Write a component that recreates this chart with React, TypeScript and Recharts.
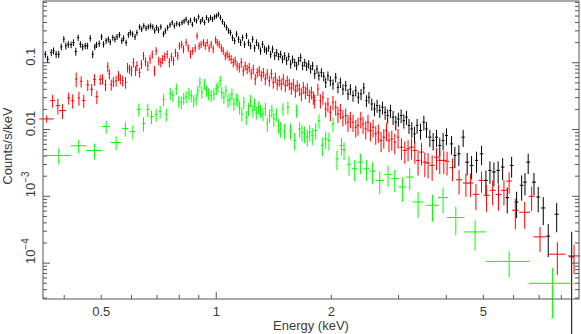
import React from 'react';
import { ScatterChart, Scatter, XAxis, YAxis, ErrorBar, Label } from 'recharts';

// each row: [energy keV, bin half-width keV, counts/s/keV, 1-sigma error]
const blackSpectrum: number[][] = [
  [0.357, 0.0025, 0.134, 0.016], [0.362, 0.0025, 0.113, 0.014], [0.370, 0.0025, 0.142, 0.017], [0.375, 0.0025, 0.151, 0.018],
  [0.381, 0.0025, 0.134, 0.016], [0.387, 0.0025, 0.134, 0.016], [0.393, 0.0025, 0.173, 0.02], [0.399, 0.0025, 0.225, 0.025],
  [0.404, 0.0025, 0.179, 0.021], [0.410, 0.003, 0.189, 0.022], [0.417, 0.003, 0.186, 0.021], [0.423, 0.003, 0.201, 0.023],
  [0.429, 0.003, 0.147, 0.02], [0.435, 0.003, 0.238, 0.026], [0.441, 0.003, 0.189, 0.021], [0.447, 0.003, 0.173, 0.02],
  [0.454, 0.003, 0.179, 0.02], [0.460, 0.003, 0.179, 0.02], [0.468, 0.003, 0.233, 0.025], [0.475, 0.003, 0.134, 0.017],
  [0.481, 0.003, 0.173, 0.019], [0.486, 0.003, 0.186, 0.02], [0.494, 0.003, 0.194, 0.021], [0.501, 0.003, 0.244, 0.026],
  [0.507, 0.003, 0.189, 0.02], [0.515, 0.003, 0.213, 0.022], [0.522, 0.003, 0.225, 0.023], [0.528, 0.003, 0.204, 0.021],
  [0.536, 0.003, 0.238, 0.024], [0.543, 0.003, 0.225, 0.023], [0.550, 0.003, 0.244, 0.025], [0.558, 0.0035, 0.262, 0.026],
  [0.566, 0.0035, 0.213, 0.022], [0.572, 0.0035, 0.233, 0.024], [0.581, 0.0035, 0.201, 0.021], [0.589, 0.0035, 0.262, 0.026],
  [0.596, 0.0035, 0.283, 0.028], [0.604, 0.0035, 0.269, 0.027], [0.613, 0.0035, 0.244, 0.025], [0.620, 0.0035, 0.283, 0.028],
  [0.630, 0.004, 0.344, 0.032], [0.638, 0.004, 0.318, 0.03], [0.646, 0.004, 0.357, 0.033], [0.655, 0.004, 0.329, 0.031],
  [0.664, 0.004, 0.344, 0.032], [0.673, 0.004, 0.357, 0.033], [0.682, 0.004, 0.344, 0.032], [0.690, 0.004, 0.300, 0.029],
  [0.698, 0.004, 0.337, 0.032], [0.706, 0.004, 0.308, 0.03], [0.716, 0.0045, 0.344, 0.032], [0.728, 0.0045, 0.269, 0.027],
  [0.736, 0.0045, 0.300, 0.029], [0.746, 0.0045, 0.337, 0.032], [0.757, 0.0045, 0.369, 0.034], [0.767, 0.0045, 0.400, 0.036],
  [0.777, 0.0045, 0.357, 0.033], [0.788, 0.0045, 0.385, 0.035], [0.801, 0.005, 0.376, 0.034], [0.814, 0.005, 0.400, 0.036],
  [0.824, 0.005, 0.420, 0.038], [0.834, 0.005, 0.448, 0.04], [0.845, 0.005, 0.400, 0.036], [0.856, 0.005, 0.434, 0.038],
  [0.866, 0.005, 0.376, 0.034], [0.877, 0.005, 0.448, 0.04], [0.888, 0.005, 0.424, 0.038], [0.899, 0.005, 0.486, 0.042],
  [0.910, 0.0055, 0.413, 0.037], [0.920, 0.0055, 0.448, 0.04], [0.932, 0.0055, 0.400, 0.036], [0.943, 0.0055, 0.475, 0.042],
  [0.955, 0.0055, 0.434, 0.038], [0.966, 0.0055, 0.475, 0.042], [0.978, 0.0055, 0.448, 0.04], [0.990, 0.006, 0.486, 0.043],
  [1.002, 0.006, 0.503, 0.044], [1.014, 0.006, 0.533, 0.046], [1.026, 0.006, 0.475, 0.042], [1.038, 0.006, 0.413, 0.038],
  [1.051, 0.006, 0.376, 0.035], [1.064, 0.0065, 0.337, 0.032], [1.077, 0.0065, 0.300, 0.03], [1.090, 0.0065, 0.283, 0.029],
  [1.103, 0.0065, 0.238, 0.026], [1.117, 0.0065, 0.213, 0.024], [1.130, 0.007, 0.269, 0.028], [1.144, 0.007, 0.225, 0.025],
  [1.158, 0.007, 0.201, 0.023], [1.172, 0.007, 0.238, 0.026], [1.186, 0.007, 0.189, 0.022], [1.200, 0.007, 0.253, 0.027],
  [1.215, 0.007, 0.201, 0.023], [1.230, 0.0075, 0.179, 0.021], [1.245, 0.0075, 0.225, 0.025], [1.260, 0.0075, 0.166, 0.02],
  [1.275, 0.0075, 0.201, 0.023], [1.291, 0.0075, 0.179, 0.021], [1.306, 0.008, 0.151, 0.019], [1.322, 0.008, 0.189, 0.022],
  [1.338, 0.008, 0.160, 0.02], [1.354, 0.008, 0.151, 0.019], [1.371, 0.008, 0.166, 0.02], [1.388, 0.0085, 0.134, 0.017],
  [1.404, 0.0085, 0.160, 0.02], [1.422, 0.0085, 0.127, 0.017], [1.439, 0.0085, 0.142, 0.018], [1.456, 0.0085, 0.124, 0.016],
  [1.474, 0.009, 0.134, 0.017], [1.491, 0.009, 0.113, 0.015], [1.510, 0.009, 0.127, 0.017], [1.528, 0.009, 0.107, 0.015],
  [1.547, 0.009, 0.124, 0.016], [1.566, 0.0095, 0.0954, 0.014], [1.584, 0.0095, 0.113, 0.015], [1.604, 0.0095, 0.101, 0.014],
  [1.623, 0.0095, 0.0902, 0.013], [1.643, 0.0095, 0.107, 0.015], [1.663, 0.01, 0.120, 0.017], [1.683, 0.01, 0.0902, 0.013],
  [1.704, 0.01, 0.101, 0.014], [1.724, 0.01, 0.0881, 0.013], [1.745, 0.01, 0.0954, 0.014], [1.766, 0.0105, 0.0803, 0.012],
  [1.787, 0.0105, 0.0902, 0.013], [1.810, 0.011, 0.0683, 0.011], [1.835, 0.011, 0.0803, 0.012], [1.856, 0.011, 0.0640, 0.01],
  [1.884, 0.012, 0.0717, 0.011], [1.911, 0.012, 0.0625, 0.01], [1.934, 0.012, 0.0508, 0.009], [1.960, 0.012, 0.0640, 0.01],
  [1.989, 0.013, 0.0539, 0.009], [2.021, 0.013, 0.0479, 0.0085], [2.054, 0.013, 0.0604, 0.01], [2.082, 0.014, 0.0428, 0.008],
  [2.113, 0.014, 0.0508, 0.009], [2.146, 0.014, 0.0403, 0.0075], [2.182, 0.015, 0.0454, 0.008], [2.212, 0.015, 0.0340, 0.0065],
  [2.244, 0.015, 0.0403, 0.0075], [2.280, 0.016, 0.0322, 0.0062], [2.318, 0.016, 0.0382, 0.007], [2.354, 0.016, 0.0304, 0.006],
  [2.393, 0.017, 0.0340, 0.0065], [2.433, 0.017, 0.0420, 0.008], [2.472, 0.017, 0.0271, 0.0055], [2.510, 0.018, 0.0304, 0.006],
  [2.553, 0.018, 0.0241, 0.005], [2.595, 0.018, 0.0203, 0.0045], [2.636, 0.019, 0.0228, 0.005], [2.679, 0.019, 0.0192, 0.0043],
  [2.723, 0.02, 0.0215, 0.0047], [2.767, 0.02, 0.0181, 0.0041], [2.810, 0.02, 0.0162, 0.0038], [2.857, 0.021, 0.0192, 0.0043],
  [2.903, 0.021, 0.0153, 0.0036], [2.951, 0.022, 0.0129, 0.0032], [2.997, 0.022, 0.0144, 0.0034], [3.047, 0.023, 0.0162, 0.0038],
  [3.097, 0.023, 0.0136, 0.0033], [3.147, 0.024, 0.0153, 0.0036], [3.195, 0.024, 0.0115, 0.0029], [3.249, 0.025, 0.0102, 0.0027],
  [3.303, 0.025, 0.00859, 0.0024], [3.355, 0.026, 0.0115, 0.0029], [3.425, 0.03, 0.00966, 0.0026], [3.494, 0.03, 0.0129, 0.0032],
  [3.550, 0.03, 0.0102, 0.0027], [3.623, 0.035, 0.00768, 0.0022], [3.695, 0.035, 0.00685, 0.002], [3.771, 0.035, 0.00768, 0.0022],
  [3.846, 0.035, 0.00577, 0.0018], [3.923, 0.035, 0.00685, 0.002], [4.004, 0.035, 0.00813, 0.0023], [4.128, 0.04, 0.00610, 0.0019],
  [4.212, 0.04, 0.00409, 0.0014], [4.315, 0.045, 0.00433, 0.0015], [4.428, 0.045, 0.00768, 0.0022], [4.536, 0.05, 0.00325, 0.0012],
  [4.658, 0.05, 0.00290, 0.0011], [4.800, 0.05, 0.00345, 0.0012], [4.947, 0.055, 0.00433, 0.0014], [5.079, 0.055, 0.00173, 0.0007],
  [5.203, 0.055, 0.00244, 0.0009], [5.330, 0.06, 0.00231, 0.0009], [5.468, 0.06, 0.00244, 0.0009], [5.618, 0.06, 0.00274, 0.001],
  [5.775, 0.065, 0.000956, 0.0004], [5.930, 0.065, 0.00290, 0.001], [6.110, 0.07, 0.000822, 0.00035], [6.299, 0.07, 0.00146, 0.0006],
  [6.427, 0.07, 0.00163, 0.0006], [6.553, 0.075, 0.00325, 0.0011], [6.785, 0.08, 0.00163, 0.0006], [6.961, 0.08, 0.000976, 0.0004],
  [7.176, 0.09, 0.000669, 0.0003], [7.394, 0.09, 0.000253, 0.00013], [7.779, 0.1, 0.000539, 0.00025], [8.516, 0.12, 0.000124, 0.00017],
];

const redSpectrum: number[][] = [
  [0.360, 0.016, 0.0144, 0.0018], [0.373, 0.0055, 0.0271, 0.0058], [0.385, 0.005, 0.0228, 0.006], [0.396, 0.0085, 0.0192, 0.0048],
  [0.411, 0.004, 0.0297, 0.006], [0.421, 0.004, 0.0271, 0.0065], [0.430, 0.003, 0.0571, 0.014], [0.437, 0.003, 0.0297, 0.007],
  [0.443, 0.003, 0.0526, 0.01], [0.450, 0.004, 0.0271, 0.006], [0.461, 0.004, 0.0465, 0.009], [0.472, 0.004, 0.0400, 0.008],
  [0.480, 0.004, 0.0563, 0.011], [0.487, 0.004, 0.0311, 0.007], [0.497, 0.004, 0.0563, 0.01], [0.504, 0.003, 0.0571, 0.01],
  [0.513, 0.003, 0.0465, 0.009], [0.520, 0.003, 0.0871, 0.015], [0.525, 0.003, 0.0683, 0.012], [0.531, 0.003, 0.0470, 0.009],
  [0.538, 0.003, 0.0520, 0.009], [0.547, 0.003, 0.0539, 0.01], [0.555, 0.003, 0.0640, 0.011], [0.561, 0.003, 0.0571, 0.01],
  [0.569, 0.003, 0.0539, 0.01], [0.579, 0.003, 0.0508, 0.01], [0.586, 0.003, 0.0852, 0.014], [0.593, 0.003, 0.0804, 0.013],
  [0.600, 0.003, 0.0760, 0.013], [0.607, 0.003, 0.101, 0.016], [0.615, 0.003, 0.0760, 0.013], [0.620, 0.003, 0.0902, 0.015],
  [0.630, 0.0035, 0.0716, 0.012], [0.637, 0.0035, 0.0954, 0.015], [0.645, 0.0035, 0.127, 0.018], [0.653, 0.0035, 0.1045, 0.016],
  [0.662, 0.0035, 0.0902, 0.015], [0.671, 0.0035, 0.113, 0.017], [0.680, 0.0035, 0.134, 0.019], [0.689, 0.0035, 0.0760, 0.013],
  [0.696, 0.0035, 0.151, 0.021], [0.707, 0.004, 0.107, 0.016], [0.716, 0.004, 0.101, 0.016], [0.724, 0.004, 0.113, 0.017],
  [0.733, 0.004, 0.124, 0.018], [0.744, 0.004, 0.134, 0.019], [0.754, 0.004, 0.101, 0.016], [0.763, 0.004, 0.123, 0.018],
  [0.773, 0.004, 0.107, 0.016], [0.782, 0.004, 0.142, 0.02], [0.793, 0.004, 0.127, 0.018], [0.801, 0.0045, 0.179, 0.023],
  [0.812, 0.0045, 0.189, 0.024], [0.821, 0.0045, 0.160, 0.021], [0.834, 0.0045, 0.201, 0.025], [0.845, 0.0045, 0.166, 0.022],
  [0.856, 0.0045, 0.134, 0.019], [0.868, 0.005, 0.151, 0.02], [0.881, 0.005, 0.166, 0.022], [0.891, 0.005, 0.253, 0.03],
  [0.902, 0.005, 0.179, 0.023], [0.913, 0.005, 0.189, 0.024], [0.926, 0.005, 0.201, 0.025], [0.936, 0.005, 0.179, 0.023],
  [0.947, 0.005, 0.201, 0.025], [0.958, 0.0055, 0.166, 0.022], [0.970, 0.0055, 0.189, 0.024], [0.982, 0.0055, 0.160, 0.021],
  [0.996, 0.0055, 0.220, 0.027], [1.006, 0.0055, 0.201, 0.025], [1.018, 0.006, 0.189, 0.024], [1.031, 0.006, 0.166, 0.022],
  [1.043, 0.006, 0.151, 0.02], [1.056, 0.006, 0.127, 0.018], [1.068, 0.006, 0.134, 0.019], [1.081, 0.0065, 0.124, 0.018],
  [1.094, 0.0065, 0.113, 0.017], [1.108, 0.0065, 0.101, 0.016], [1.121, 0.0065, 0.107, 0.016], [1.134, 0.0065, 0.0902, 0.014],
  [1.149, 0.007, 0.0852, 0.014], [1.163, 0.007, 0.101, 0.016], [1.177, 0.007, 0.0760, 0.013], [1.191, 0.007, 0.0902, 0.014],
  [1.205, 0.007, 0.0804, 0.013], [1.220, 0.0075, 0.0852, 0.014], [1.235, 0.0075, 0.0683, 0.012], [1.250, 0.0075, 0.0804, 0.013],
  [1.265, 0.0075, 0.0571, 0.011], [1.280, 0.0075, 0.0716, 0.012], [1.296, 0.008, 0.0760, 0.013], [1.312, 0.008, 0.0640, 0.011],
  [1.328, 0.008, 0.0716, 0.012], [1.344, 0.008, 0.0571, 0.011], [1.360, 0.008, 0.0683, 0.012], [1.377, 0.0085, 0.0539, 0.01],
  [1.394, 0.0085, 0.0683, 0.012], [1.410, 0.0085, 0.0508, 0.01], [1.428, 0.0085, 0.0603, 0.011], [1.444, 0.0085, 0.0480, 0.0095],
  [1.462, 0.009, 0.0539, 0.01], [1.480, 0.009, 0.0480, 0.0095], [1.498, 0.009, 0.0571, 0.011], [1.516, 0.009, 0.0454, 0.009],
  [1.534, 0.009, 0.0539, 0.01], [1.553, 0.0095, 0.0480, 0.0095], [1.572, 0.0095, 0.0419, 0.0088], [1.591, 0.0095, 0.0480, 0.0095],
  [1.611, 0.0095, 0.0382, 0.0082], [1.629, 0.0095, 0.0454, 0.009], [1.650, 0.01, 0.0403, 0.0085], [1.670, 0.01, 0.0340, 0.0075],
  [1.690, 0.01, 0.0428, 0.0088], [1.711, 0.01, 0.0361, 0.0078], [1.731, 0.01, 0.0403, 0.0085], [1.752, 0.0105, 0.0322, 0.0072],
  [1.774, 0.0105, 0.0361, 0.0078], [1.795, 0.0105, 0.0304, 0.007], [1.810, 0.011, 0.0271, 0.0065], [1.845, 0.011, 0.0403, 0.0085],
  [1.873, 0.011, 0.0271, 0.0065], [1.902, 0.012, 0.0304, 0.007], [1.934, 0.012, 0.0203, 0.0052], [1.960, 0.012, 0.0241, 0.006],
  [1.989, 0.013, 0.0181, 0.0048], [2.021, 0.013, 0.0255, 0.0062], [2.054, 0.013, 0.0215, 0.0054], [2.082, 0.014, 0.0171, 0.0046],
  [2.113, 0.014, 0.0192, 0.005], [2.146, 0.014, 0.0153, 0.0042], [2.182, 0.015, 0.0162, 0.0044], [2.212, 0.015, 0.0129, 0.0037],
  [2.244, 0.015, 0.0144, 0.004], [2.280, 0.016, 0.0129, 0.0037], [2.318, 0.016, 0.0108, 0.0032], [2.349, 0.016, 0.0115, 0.0034],
  [2.389, 0.017, 0.0144, 0.004], [2.422, 0.017, 0.0121, 0.0035], [2.462, 0.017, 0.0102, 0.0031], [2.495, 0.018, 0.0129, 0.0037],
  [2.532, 0.018, 0.00966, 0.003], [2.573, 0.018, 0.0108, 0.0032], [2.615, 0.019, 0.00861, 0.0027], [2.656, 0.019, 0.00911, 0.0028],
  [2.700, 0.02, 0.00685, 0.0023], [2.745, 0.02, 0.00768, 0.0025], [2.789, 0.02, 0.00966, 0.003], [2.832, 0.021, 0.00685, 0.0023],
  [2.880, 0.021, 0.00723, 0.0024], [2.933, 0.022, 0.00646, 0.0022], [2.991, 0.022, 0.00768, 0.0025], [3.053, 0.04, 0.00544, 0.0019],
  [3.116, 0.04, 0.00486, 0.0018], [3.177, 0.04, 0.00513, 0.0018], [3.243, 0.045, 0.00544, 0.0019], [3.309, 0.045, 0.00486, 0.0018],
  [3.374, 0.045, 0.00345, 0.0014], [3.445, 0.05, 0.00459, 0.0017], [3.515, 0.05, 0.00325, 0.0013], [3.584, 0.05, 0.00315, 0.0013],
  [3.673, 0.055, 0.00290, 0.0012], [3.771, 0.055, 0.00386, 0.0014], [3.846, 0.055, 0.00345, 0.0013], [3.940, 0.06, 0.00345, 0.0013],
  [4.019, 0.06, 0.00335, 0.0013], [4.154, 0.07, 0.00268, 0.001], [4.320, 0.08, 0.00177, 0.0007], [4.502, 0.08, 0.00158, 0.0006],
  [4.630, 0.08, 0.00158, 0.0006], [4.782, 0.09, 0.00107, 0.00045], [4.947, 0.09, 0.00173, 0.0006], [5.099, 0.09, 0.001035, 0.00045],
  [5.289, 0.1, 0.00123, 0.0005], [5.478, 0.1, 0.00106, 0.00045], [5.662, 0.1, 0.00123, 0.0005], [5.841, 0.1, 0.00169, 0.0006],
  [6.064, 0.12, 0.000618, 0.0003], [6.416, 0.21, 0.000577, 0.00025], [6.690, 0.12, 0.00100, 0.0004], [7.035, 0.27, 0.000247, 0.0001],
  [7.810, 0.40, 0.000136, 0.00007], [8.638, 0.31, 0.000128, 0.00006],
];

const greenSpectrum: number[][] = [
  [0.387, 0.030, 0.00409, 0.0011], [0.4365, 0.0205, 0.00571, 0.0013], [0.480, 0.0235, 0.00486, 0.0013], [0.515, 0.012, 0.0111, 0.0025],
  [0.547, 0.018, 0.00640, 0.0015], [0.578, 0.010, 0.01035, 0.0025], [0.605, 0.010, 0.00933, 0.0022], [0.627, 0.008, 0.0201, 0.0045],
  [0.645, 0.006, 0.0123, 0.003], [0.662, 0.006, 0.0199, 0.0045], [0.677, 0.006, 0.0156, 0.0035], [0.696, 0.006, 0.01675, 0.0037],
  [0.713, 0.006, 0.01858, 0.004], [0.728, 0.005, 0.0281, 0.0058], [0.740, 0.005, 0.0169, 0.0038], [0.758, 0.005, 0.0348, 0.007],
  [0.770, 0.005, 0.0322, 0.0066], [0.786, 0.005, 0.0409, 0.008], [0.798, 0.005, 0.0264, 0.0055], [0.810, 0.005, 0.0256, 0.0054],
  [0.822, 0.005, 0.0293, 0.006], [0.834, 0.005, 0.0311, 0.0064], [0.848, 0.005, 0.0348, 0.007], [0.860, 0.005, 0.0322, 0.0066],
  [0.873, 0.005, 0.0271, 0.0057], [0.886, 0.005, 0.0290, 0.006], [0.895, 0.005, 0.0382, 0.0075], [0.906, 0.005, 0.0508, 0.0095],
  [0.917, 0.005, 0.0360, 0.0072], [0.932, 0.006, 0.0481, 0.009], [0.943, 0.006, 0.0382, 0.0075], [0.955, 0.006, 0.0344, 0.007],
  [0.970, 0.006, 0.0322, 0.0066], [0.986, 0.006, 0.0341, 0.007], [1.000, 0.006, 0.0409, 0.008], [1.010, 0.006, 0.0438, 0.0085],
  [1.024, 0.006, 0.0539, 0.01], [1.034, 0.006, 0.0360, 0.0072], [1.047, 0.006, 0.0303, 0.0063], [1.060, 0.0065, 0.0382, 0.0075],
  [1.073, 0.0065, 0.0271, 0.0057], [1.086, 0.0065, 0.0287, 0.006], [1.099, 0.0065, 0.0341, 0.007], [1.112, 0.0065, 0.0242, 0.0052],
  [1.128, 0.007, 0.0287, 0.006], [1.139, 0.007, 0.0271, 0.0057], [1.151, 0.007, 0.0215, 0.0047], [1.167, 0.007, 0.0171, 0.0039],
  [1.181, 0.007, 0.0256, 0.0054], [1.198, 0.007, 0.0153, 0.0036], [1.215, 0.0075, 0.0204, 0.0045], [1.230, 0.0075, 0.0271, 0.0057],
  [1.247, 0.0075, 0.0192, 0.0042], [1.260, 0.0075, 0.0242, 0.0052], [1.273, 0.0075, 0.0181, 0.004], [1.291, 0.008, 0.0215, 0.0047],
  [1.306, 0.008, 0.0192, 0.0042], [1.325, 0.008, 0.0171, 0.0039], [1.344, 0.008, 0.0204, 0.0045], [1.360, 0.008, 0.01216, 0.003],
  [1.379, 0.0085, 0.0162, 0.0037], [1.398, 0.0085, 0.0192, 0.0042], [1.415, 0.0085, 0.01445, 0.0034], [1.436, 0.0085, 0.0171, 0.0039],
  [1.456, 0.009, 0.01148, 0.0029], [1.474, 0.009, 0.01024, 0.0027], [1.495, 0.009, 0.0204, 0.0045], [1.510, 0.009, 0.00966, 0.0026],
  [1.540, 0.012, 0.0215, 0.0047], [1.565, 0.012, 0.00966, 0.0026], [1.604, 0.012, 0.00685, 0.002], [1.623, 0.012, 0.0192, 0.0042],
  [1.653, 0.012, 0.01024, 0.0027], [1.676, 0.012, 0.00912, 0.0025], [1.703, 0.012, 0.00863, 0.0024], [1.731, 0.012, 0.00768, 0.0022],
  [1.756, 0.012, 0.00912, 0.0025], [1.784, 0.013, 0.00813, 0.0023], [1.821, 0.015, 0.00966, 0.0026], [1.857, 0.015, 0.0136, 0.0033],
  [1.895, 0.015, 0.00577, 0.0018], [1.934, 0.016, 0.00726, 0.0021], [1.972, 0.016, 0.00685, 0.002], [2.021, 0.017, 0.01216, 0.003],
  [2.070, 0.02, 0.00366, 0.0012], [2.126, 0.025, 0.00577, 0.0017], [2.160, 0.025, 0.00498, 0.0015], [2.226, 0.03, 0.00301, 0.001],
  [2.303, 0.04, 0.00259, 0.0009], [2.384, 0.04, 0.00325, 0.0011], [2.472, 0.045, 0.00259, 0.0009], [2.563, 0.05, 0.00239, 0.00085],
  [2.679, 0.07, 0.00173, 0.00065], [2.816, 0.065, 0.00213, 0.00075], [2.932, 0.07, 0.00184, 0.00068], [3.071, 0.075, 0.00138, 0.00055],
  [3.209, 0.08, 0.00194, 0.0007], [3.375, 0.115, 0.000822, 0.00035], [3.68, 0.14, 0.000734, 0.00032], [3.924, 0.12, 0.000957, 0.0004],
  [4.236, 0.22, 0.000481, 0.00022], [4.759, 0.32, 0.000293, 0.00014], [5.842, 0.76, 0.000106, 0.000045], [7.59, 1.01, 0.0000498, 0.000035],
];

const energyDomain = [0.352, 8.9];
const rateDomain = [2.9e-5, 0.84];
const energyTicks = [0.4, 0.5, 0.6, 0.7, 0.8, 0.9, 1, 2, 3, 4, 5, 6, 7, 8];
const energyTickLabels = ['0.5', '1', '2', '5'];
const rateMantissas = [1, 2, 3, 4, 5, 6, 7, 8, 9];
const rateDecades = [1e-5, 1e-4, 1e-3, 1e-2, 1e-1];
// [value, base text, exponent text]
const rateTickLabels: [number, string, string][] = [
  [0.1, '0.1', ''],
  [0.01, '0.01', ''],
  [0.001, '10', '\u22123'],
  [0.0001, '10', '\u22124'],
];

const rateTicks = rateDecades
  .flatMap((d) => rateMantissas.map((m) => m * d))
  .filter((v) => v >= rateDomain[0] && v <= rateDomain[1]);

const AXIS = '#555';
const INK = '#3a3a3a';
const FONT = '"Liberation Sans", Arial, sans-serif';

const isDecade = (v: number) => Math.abs(Math.log10(v) - Math.round(Math.log10(v))) < 1e-6;
const findRateLabel = (v: number) => rateTickLabels.find(([t]) => Math.abs(v / t - 1) < 1e-6);

function toPoints(rows: number[][]) {
  return rows.map(([e, w, y, dy]) => ({
    e,
    y,
    eErr: [w, w],
    // keep the lower end positive for the log axis; it runs off the plot and is clipped
    yErr: [y - dy > 0 ? dy : y - 1e-6, dy],
  }));
}

const series = [
  { name: 'black', color: '#000000', data: toPoints(blackSpectrum) },
  { name: 'red', color: '#ff0000', data: toPoints(redSpectrum) },
  { name: 'green', color: '#00ff00', data: toPoints(greenSpectrum) },
];

function BottomTick(props: any) {
  const { x, y, payload } = props;
  const v = payload.value;
  const label = energyTickLabels.find((t) => Math.abs(Number(t) - v) < 1e-9);
  return (
    <g>
      <line x1={x} x2={x} y1={y} y2={y - (isDecade(v) ? 7 : 4)} stroke={AXIS} />
      {label && (
        <text x={x} y={y + 17} textAnchor="middle" fontSize={13} fontFamily={FONT} fill={INK}>
          {label}
        </text>
      )}
    </g>
  );
}

function TopTick(props: any) {
  const { x, y, payload } = props;
  return <line x1={x} x2={x} y1={y} y2={y + (isDecade(payload.value) ? 7 : 4)} stroke={AXIS} />;
}

function LeftTick(props: any) {
  const { x, y, payload } = props;
  const v = payload.value;
  const label = findRateLabel(v);
  const bx = x - 8;
  let text = null;
  if (label && label[2]) {
    const sy = y + 1;
    text = (
      <text x={bx} y={sy} transform={`rotate(-90 ${bx} ${sy})`} textAnchor="start" fontSize={13} fontFamily={FONT} fill={INK}>
        {label[1]}
        <tspan dy={-6} fontSize={10}>{label[2]}</tspan>
      </text>
    );
  } else if (label) {
    const cy = y - 6;
    text = (
      <text x={bx} y={cy} transform={`rotate(-90 ${bx} ${cy})`} textAnchor="middle" fontSize={13} fontFamily={FONT} fill={INK}>
        {label[1]}
      </text>
    );
  }
  return (
    <g>
      <line x1={x} x2={x + (isDecade(v) ? 7 : 4)} y1={y} y2={y} stroke={AXIS} />
      {text}
    </g>
  );
}

function RightTick(props: any) {
  const { x, y, payload } = props;
  return <line x1={x} x2={x - (isDecade(payload.value) ? 7 : 4)} y1={y} y2={y} stroke={AXIS} />;
}

function EnergyTitle(props: any) {
  const vb = props.viewBox || { x: 43, y: 299, width: 536, height: 35 };
  return (
    <text x={vb.x + vb.width / 2} y={vb.y + 31} textAnchor="middle" fontSize={13} fontFamily={FONT} fill={INK}>
      Energy (keV)
    </text>
  );
}

function RateTitle(props: any) {
  const vb = props.viewBox || { x: 0, y: 1, width: 43, height: 298 };
  const cx = vb.x + vb.width - 31;
  const cy = vb.y + vb.height / 2 - 4;
  return (
    <text x={cx} y={cy} transform={`rotate(-90 ${cx} ${cy})`} textAnchor="middle" fontSize={13} fontFamily={FONT} fill={INK}>
      Counts/s/keV
    </text>
  );
}

export default function App() {
  return (
    <div style={{ position: 'absolute', left: 0, top: 0, width: 581, height: 334, background: '#fff' }}>
      <ScatterChart width={581} height={334} margin={{ top: 0, right: 0, bottom: 0, left: 0 }}>
        <XAxis
          xAxisId={0}
          dataKey="e"
          type="number"
          scale="log"
          domain={energyDomain}
          allowDataOverflow
          ticks={energyTicks}
          interval={0}
          height={35}
          tickSize={0}
          tickMargin={0}
          tickLine={false}
          tick={(p: any) => <BottomTick {...p} />}
          axisLine={{ stroke: AXIS }}
        >
          <Label content={(p: any) => <EnergyTitle {...p} />} />
        </XAxis>
        <XAxis
          xAxisId="top"
          orientation="top"
          type="number"
          scale="log"
          domain={energyDomain}
          allowDataOverflow
          ticks={energyTicks}
          interval={0}
          height={1}
          tickSize={0}
          tickMargin={0}
          tickLine={false}
          tick={(p: any) => <TopTick {...p} />}
          axisLine={{ stroke: AXIS }}
        />
        <YAxis
          yAxisId={0}
          dataKey="y"
          type="number"
          scale="log"
          domain={rateDomain}
          allowDataOverflow
          ticks={rateTicks}
          interval={0}
          width={43}
          tickSize={0}
          tickMargin={0}
          tickLine={false}
          tick={(p: any) => <LeftTick {...p} />}
          axisLine={{ stroke: AXIS }}
        >
          <Label content={(p: any) => <RateTitle {...p} />} />
        </YAxis>
        <YAxis
          yAxisId="right"
          orientation="right"
          type="number"
          scale="log"
          domain={rateDomain}
          allowDataOverflow
          ticks={rateTicks}
          interval={0}
          width={2}
          tickSize={0}
          tickMargin={0}
          tickLine={false}
          tick={(p: any) => <RightTick {...p} />}
          axisLine={{ stroke: AXIS }}
        />
        {series.map((s) => (
          <Scatter
            key={s.name}
            name={s.name}
            data={s.data}
            xAxisId={0}
            yAxisId={0}
            isAnimationActive={false}
            shape={() => <g />}
          >
            <ErrorBar dataKey="eErr" direction="x" width={0} stroke={s.color} strokeWidth={1} isAnimationActive={false} />
            <ErrorBar dataKey="yErr" direction="y" width={0} stroke={s.color} strokeWidth={1} isAnimationActive={false} />
          </Scatter>
        ))}
      </ScatterChart>
    </div>
  );
}
